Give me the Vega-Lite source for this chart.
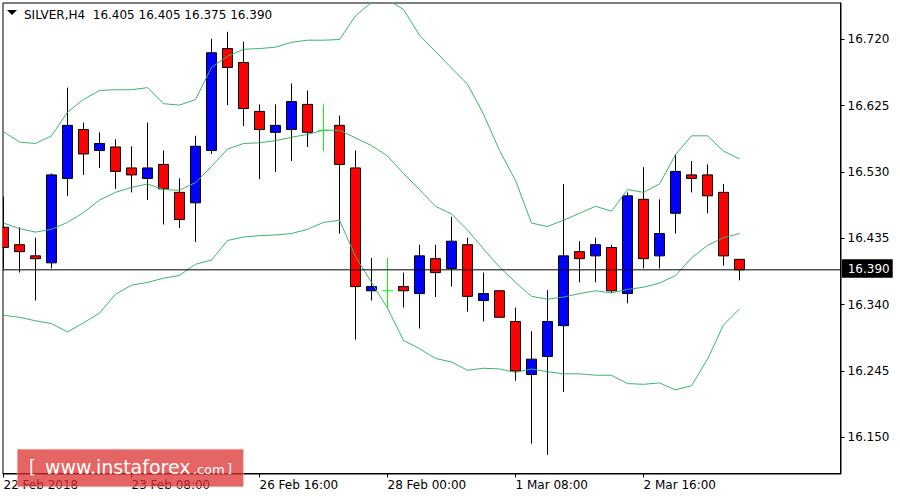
{
  "$schema": "https://vega.github.io/schema/vega-lite/v6.json",
  "width": 838,
  "height": 471,
  "autosize": {"type": "none"},
  "padding": {"left": 2.5, "top": 2.5, "right": 59.5, "bottom": 26.5},
  "background": "white",
  "config": {
    "view": {"stroke": "black", "strokeWidth": 1},
    "font": "DejaVu Sans",
    "axis": {"translate": 0, "grid": false, "domainColor": "black", "tickColor": "black", "labelColor": "black", "labelFont": "DejaVu Sans", "labelFontSize": 12, "tickSize": 4}
  },
  "datasets": {
    "candles": [
      {"i": 0, "open": 16.451, "high": 16.495, "low": 16.392, "close": 16.422},
      {"i": 1, "open": 16.426, "high": 16.451, "low": 16.386, "close": 16.416},
      {"i": 2, "open": 16.410, "high": 16.436, "low": 16.346, "close": 16.406},
      {"i": 3, "open": 16.400, "high": 16.528, "low": 16.392, "close": 16.526},
      {"i": 4, "open": 16.521, "high": 16.651, "low": 16.496, "close": 16.597},
      {"i": 5, "open": 16.591, "high": 16.601, "low": 16.526, "close": 16.556},
      {"i": 6, "open": 16.561, "high": 16.587, "low": 16.536, "close": 16.571},
      {"i": 7, "open": 16.566, "high": 16.577, "low": 16.506, "close": 16.531},
      {"i": 8, "open": 16.536, "high": 16.567, "low": 16.501, "close": 16.526},
      {"i": 9, "open": 16.521, "high": 16.601, "low": 16.490, "close": 16.536},
      {"i": 10, "open": 16.541, "high": 16.561, "low": 16.455, "close": 16.506},
      {"i": 11, "open": 16.501, "high": 16.521, "low": 16.450, "close": 16.462},
      {"i": 12, "open": 16.486, "high": 16.582, "low": 16.430, "close": 16.567},
      {"i": 13, "open": 16.561, "high": 16.721, "low": 16.556, "close": 16.701},
      {"i": 14, "open": 16.707, "high": 16.731, "low": 16.626, "close": 16.680},
      {"i": 15, "open": 16.687, "high": 16.717, "low": 16.596, "close": 16.621},
      {"i": 16, "open": 16.617, "high": 16.627, "low": 16.520, "close": 16.591},
      {"i": 17, "open": 16.587, "high": 16.627, "low": 16.530, "close": 16.597},
      {"i": 18, "open": 16.591, "high": 16.657, "low": 16.546, "close": 16.631},
      {"i": 19, "open": 16.627, "high": 16.647, "low": 16.566, "close": 16.587},
      {"i": 20, "open": 16.590, "high": 16.627, "low": 16.560, "close": 16.590},
      {"i": 21, "open": 16.597, "high": 16.611, "low": 16.442, "close": 16.541},
      {"i": 22, "open": 16.536, "high": 16.561, "low": 16.290, "close": 16.366},
      {"i": 23, "open": 16.360, "high": 16.407, "low": 16.346, "close": 16.366},
      {"i": 24, "open": 16.360, "high": 16.407, "low": 16.336, "close": 16.360},
      {"i": 25, "open": 16.366, "high": 16.386, "low": 16.336, "close": 16.360},
      {"i": 26, "open": 16.356, "high": 16.426, "low": 16.306, "close": 16.410},
      {"i": 27, "open": 16.406, "high": 16.426, "low": 16.351, "close": 16.386},
      {"i": 28, "open": 16.392, "high": 16.466, "low": 16.366, "close": 16.431},
      {"i": 29, "open": 16.426, "high": 16.436, "low": 16.330, "close": 16.352},
      {"i": 30, "open": 16.346, "high": 16.386, "low": 16.316, "close": 16.356},
      {"i": 31, "open": 16.360, "high": 16.360, "low": 16.322, "close": 16.322},
      {"i": 32, "open": 16.316, "high": 16.336, "low": 16.231, "close": 16.245},
      {"i": 33, "open": 16.240, "high": 16.302, "low": 16.141, "close": 16.262},
      {"i": 34, "open": 16.266, "high": 16.361, "low": 16.125, "close": 16.316},
      {"i": 35, "open": 16.310, "high": 16.513, "low": 16.215, "close": 16.410},
      {"i": 36, "open": 16.416, "high": 16.431, "low": 16.372, "close": 16.406},
      {"i": 37, "open": 16.410, "high": 16.436, "low": 16.372, "close": 16.426},
      {"i": 38, "open": 16.422, "high": 16.426, "low": 16.357, "close": 16.360},
      {"i": 39, "open": 16.356, "high": 16.501, "low": 16.342, "close": 16.496},
      {"i": 40, "open": 16.491, "high": 16.537, "low": 16.392, "close": 16.406},
      {"i": 41, "open": 16.410, "high": 16.491, "low": 16.392, "close": 16.442},
      {"i": 42, "open": 16.471, "high": 16.556, "low": 16.442, "close": 16.531},
      {"i": 43, "open": 16.526, "high": 16.546, "low": 16.501, "close": 16.521},
      {"i": 44, "open": 16.526, "high": 16.541, "low": 16.471, "close": 16.496},
      {"i": 45, "open": 16.501, "high": 16.513, "low": 16.396, "close": 16.410},
      {"i": 46, "open": 16.405, "high": 16.405, "low": 16.375, "close": 16.390}
    ],
    "bands": [
      {"i": 0, "upper": 16.588, "middle": 16.457, "lower": 16.325},
      {"i": 1, "upper": 16.573, "middle": 16.449, "lower": 16.322},
      {"i": 2, "upper": 16.571, "middle": 16.444, "lower": 16.317},
      {"i": 3, "upper": 16.582, "middle": 16.448, "lower": 16.313},
      {"i": 4, "upper": 16.616, "middle": 16.458, "lower": 16.301},
      {"i": 5, "upper": 16.634, "middle": 16.472, "lower": 16.314},
      {"i": 6, "upper": 16.647, "middle": 16.490, "lower": 16.328},
      {"i": 7, "upper": 16.648, "middle": 16.501, "lower": 16.355},
      {"i": 8, "upper": 16.648, "middle": 16.508, "lower": 16.368},
      {"i": 9, "upper": 16.651, "middle": 16.513, "lower": 16.372},
      {"i": 10, "upper": 16.628, "middle": 16.505, "lower": 16.378},
      {"i": 11, "upper": 16.626, "middle": 16.504, "lower": 16.382},
      {"i": 12, "upper": 16.634, "middle": 16.515, "lower": 16.398},
      {"i": 13, "upper": 16.680, "middle": 16.538, "lower": 16.404},
      {"i": 14, "upper": 16.696, "middle": 16.563, "lower": 16.432},
      {"i": 15, "upper": 16.706, "middle": 16.571, "lower": 16.437},
      {"i": 16, "upper": 16.707, "middle": 16.572, "lower": 16.439},
      {"i": 17, "upper": 16.709, "middle": 16.575, "lower": 16.440},
      {"i": 18, "upper": 16.716, "middle": 16.580, "lower": 16.442},
      {"i": 19, "upper": 16.719, "middle": 16.584, "lower": 16.448},
      {"i": 20, "upper": 16.719, "middle": 16.590, "lower": 16.458},
      {"i": 21, "upper": 16.720, "middle": 16.590, "lower": 16.461},
      {"i": 22, "upper": 16.754, "middle": 16.579, "lower": 16.409},
      {"i": 23, "upper": 16.773, "middle": 16.568, "lower": 16.372},
      {"i": 24, "upper": 16.777, "middle": 16.553, "lower": 16.335},
      {"i": 25, "upper": 16.763, "middle": 16.528, "lower": 16.289},
      {"i": 26, "upper": 16.726, "middle": 16.505, "lower": 16.277},
      {"i": 27, "upper": 16.703, "middle": 16.481, "lower": 16.263},
      {"i": 28, "upper": 16.679, "middle": 16.470, "lower": 16.258},
      {"i": 29, "upper": 16.656, "middle": 16.447, "lower": 16.246},
      {"i": 30, "upper": 16.613, "middle": 16.420, "lower": 16.249},
      {"i": 31, "upper": 16.561, "middle": 16.394, "lower": 16.248},
      {"i": 32, "upper": 16.518, "middle": 16.372, "lower": 16.243},
      {"i": 33, "upper": 16.457, "middle": 16.352, "lower": 16.248},
      {"i": 34, "upper": 16.452, "middle": 16.348, "lower": 16.244},
      {"i": 35, "upper": 16.461, "middle": 16.351, "lower": 16.241},
      {"i": 36, "upper": 16.471, "middle": 16.356, "lower": 16.241},
      {"i": 37, "upper": 16.481, "middle": 16.360, "lower": 16.239},
      {"i": 38, "upper": 16.474, "middle": 16.357, "lower": 16.239},
      {"i": 39, "upper": 16.505, "middle": 16.362, "lower": 16.227},
      {"i": 40, "upper": 16.501, "middle": 16.365, "lower": 16.226},
      {"i": 41, "upper": 16.513, "middle": 16.371, "lower": 16.228},
      {"i": 42, "upper": 16.555, "middle": 16.382, "lower": 16.218},
      {"i": 43, "upper": 16.582, "middle": 16.407, "lower": 16.224},
      {"i": 44, "upper": 16.582, "middle": 16.425, "lower": 16.262},
      {"i": 45, "upper": 16.560, "middle": 16.436, "lower": 16.311},
      {"i": 46, "upper": 16.549, "middle": 16.442, "lower": 16.334}
    ],
    "last": [{"price": 16.39, "label": "16.390"}],
    "header": [{"title": "SILVER,H4\u00a0 16.405 16.405 16.375 16.390"}],
    "one": [{}]
  },
  "layer": [
    {
      "data": {"name": "candles"},
      "mark": {"type": "rule", "strokeWidth": 1, "clip": true},
      "encoding": {
        "x": {"field": "i", "type": "quantitative",
              "scale": {"domain": [-0.0625, 52.3125], "nice": false, "zero": false, "padding": 0},
              "axis": {"title": null, "orient": "bottom", "values": [0, 8, 16, 24, 32, 40], "labelAlign": "left", "labelBaseline": "top", "labelPadding": 2, "labelFlush": false, "labelOverlap": false, "labelBound": false,
                       "labelExpr": "datum.value == 0 ? '22 Feb 2018' : datum.value == 8 ? '23 Feb 08:00' : datum.value == 16 ? '26 Feb 16:00' : datum.value == 24 ? '28 Feb 00:00' : datum.value == 32 ? '1 Mar 08:00' : '2 Mar 16:00'"}},
        "y": {"field": "low", "type": "quantitative",
              "scale": {"domain": [16.0982, 16.773], "nice": false, "zero": false, "padding": 0},
              "axis": {"title": null, "orient": "right", "values": [16.15, 16.245, 16.34, 16.435, 16.53, 16.625, 16.72], "format": ".3f", "labelPadding": 3, "labelAlign": "left", "labelBaseline": "middle", "labelFlush": false, "labelOverlap": false}},
        "y2": {"field": "high"},
        "color": {"condition": {"test": "datum.open == datum.close", "value": "#00ff00"}, "value": "black"}
      }
    },
    {
      "data": {"name": "candles"},
      "transform": [{"filter": "datum.open != datum.close"}],
      "mark": {"type": "bar", "size": 10, "stroke": "black", "strokeWidth": 1, "clip": true},
      "encoding": {
        "x": {"field": "i", "type": "quantitative"},
        "y": {"field": "open", "type": "quantitative"},
        "y2": {"field": "close"},
        "fill": {"condition": {"test": "datum.close > datum.open", "value": "#0000ff"}, "value": "#ff0000"}
      }
    },
    {
      "data": {"name": "candles"},
      "transform": [{"filter": "datum.open == datum.close"}],
      "mark": {"type": "tick", "orient": "horizontal", "size": 11, "thickness": 1, "color": "#00ff00", "opacity": 1, "clip": true},
      "encoding": {
        "x": {"field": "i", "type": "quantitative"},
        "y": {"field": "open", "type": "quantitative"}
      }
    },
    {
      "data": {"name": "bands"},
      "mark": {"type": "line", "color": "#3cb371", "strokeWidth": 1, "clip": true},
      "encoding": {
        "x": {"field": "i", "type": "quantitative"},
        "y": {"field": "upper", "type": "quantitative"}
      }
    },
    {
      "data": {"name": "bands"},
      "mark": {"type": "line", "color": "#3cb371", "strokeWidth": 1, "clip": true},
      "encoding": {
        "x": {"field": "i", "type": "quantitative"},
        "y": {"field": "middle", "type": "quantitative"}
      }
    },
    {
      "data": {"name": "bands"},
      "mark": {"type": "line", "color": "#3cb371", "strokeWidth": 1, "clip": true},
      "encoding": {
        "x": {"field": "i", "type": "quantitative"},
        "y": {"field": "lower", "type": "quantitative"}
      }
    },
    {
      "data": {"name": "last"},
      "mark": {"type": "rule", "color": "black", "strokeWidth": 1},
      "encoding": {
        "y": {"field": "price", "type": "quantitative"}
      }
    },
    {
      "data": {"name": "one"},
      "mark": {"type": "rect", "fill": "black", "clip": false},
      "encoding": {
        "x": {"datum": 52.3875, "type": "quantitative"},
        "x2": {"datum": 55.575},
        "y": {"datum": 16.4051, "type": "quantitative"},
        "y2": {"datum": 16.3787}
      }
    },
    {
      "data": {"name": "last"},
      "mark": {"type": "text", "color": "white", "font": "DejaVu Sans", "fontSize": 12, "align": "left", "baseline": "middle", "clip": false},
      "encoding": {
        "x": {"datum": 52.7625, "type": "quantitative"},
        "y": {"datum": 16.3919, "type": "quantitative"},
        "text": {"field": "label"}
      }
    },
    {
      "data": {"name": "one"},
      "mark": {"type": "point", "shape": "M-1,-0.5L1,-0.5L0,0.5Z", "size": 100, "filled": true, "color": "black", "opacity": 1, "strokeWidth": 0, "clip": false},
      "encoding": {
        "x": {"datum": 0.53125, "type": "quantitative"},
        "y": {"datum": 16.7587, "type": "quantitative"}
      }
    },
    {
      "data": {"name": "header"},
      "mark": {"type": "text", "color": "black", "font": "DejaVu Sans", "fontSize": 12, "align": "left", "baseline": "alphabetic", "clip": false},
      "encoding": {
        "x": {"datum": 1.28125, "type": "quantitative"},
        "y": {"datum": 16.7494, "type": "quantitative"},
        "text": {"field": "title"}
      }
    },
    {
      "data": {"name": "one"},
      "mark": {"type": "rect", "fill": "#dc3030", "fillOpacity": 0.75, "stroke": "#f4b0b0", "strokeOpacity": 0.6, "strokeWidth": 1, "clip": false},
      "encoding": {
        "x": {"datum": 0.8625, "type": "quantitative"},
        "x2": {"datum": 14.9875},
        "y": {"datum": 16.1329, "type": "quantitative"},
        "y2": {"datum": 16.0793}
      }
    },
    {
      "data": {"name": "one"},
      "mark": {"type": "text", "text": "[", "color": "white", "font": "DejaVu Sans", "fontSize": 17, "align": "left", "baseline": "alphabetic", "clip": false},
      "encoding": {
        "x": {"datum": 1.5938, "type": "quantitative"},
        "y": {"datum": 16.0985, "type": "quantitative"}
      }
    },
    {
      "data": {"name": "one"},
      "mark": {"type": "text", "text": "www.instaforex", "color": "white", "font": "DejaVu Sans", "fontSize": 19, "align": "left", "baseline": "alphabetic", "clip": false},
      "encoding": {
        "x": {"datum": 2.5938, "type": "quantitative"},
        "y": {"datum": 16.0971, "type": "quantitative"}
      }
    },
    {
      "data": {"name": "one"},
      "mark": {"type": "text", "text": ".com", "color": "white", "font": "DejaVu Sans", "fontSize": 13, "align": "left", "baseline": "alphabetic", "clip": false},
      "encoding": {
        "x": {"datum": 11.83, "type": "quantitative"},
        "y": {"datum": 16.0971, "type": "quantitative"}
      }
    },
    {
      "data": {"name": "one"},
      "mark": {"type": "text", "text": "]", "color": "white", "font": "DejaVu Sans", "fontSize": 13, "align": "left", "baseline": "alphabetic", "clip": false},
      "encoding": {
        "x": {"datum": 13.9688, "type": "quantitative"},
        "y": {"datum": 16.0985, "type": "quantitative"}
      }
    }
  ]
}
